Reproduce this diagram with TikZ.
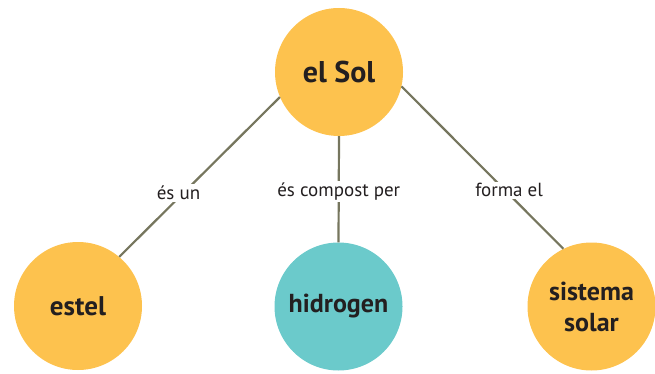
\documentclass[tikz,border=0pt]{standalone}
\usepackage{fontspec}
\setmainfont{PT Sans}
\definecolor{sunfill}{HTML}{FDC24E}
\definecolor{tealfill}{HTML}{6BCACB}
\definecolor{linkcol}{HTML}{76765E}
\definecolor{txtcol}{HTML}{231F20}
\tikzset{
  concept/.style={circle, minimum size=128pt, inner sep=0pt, text=txtcol,
    font=\bfseries\fontsize{26}{31}\selectfont, align=center},
  link/.style={draw=linkcol, line width=2.2pt},
  lbl/.style={fill=white, text=txtcol, inner sep=2pt, font=\fontsize{19}{22}\selectfont}
}
\begin{document}
\begin{tikzpicture}[x=1pt,y=-1pt]
\useasboundingbox (0,0) rectangle (655,374);
\node[concept, fill=sunfill, font=\bfseries\fontsize{30}{34}\selectfont] (sol) at (339,72) {el Sol};
\node[concept, fill=sunfill, font=\bfseries\fontsize{27}{31}\selectfont] (estel) at (78,306) {estel};
\node[concept, fill=tealfill] (hid) at (338.5,306.5) {hidrogen};
\node[concept, fill=sunfill] (sis) at (591.5,306.5) {sistema\\solar};
\draw[link] (sol.203) -- node[lbl, pos=0.6, xshift=-5pt] {és un} (estel.50);
\draw[link] (sol.south) -- node[lbl, pos=0.52] {és compost per} (hid.north);
\draw[link] (sol.-13) -- node[lbl, pos=0.64, xshift=4pt] {forma el} (sis.116);
\end{tikzpicture}
\end{document}
